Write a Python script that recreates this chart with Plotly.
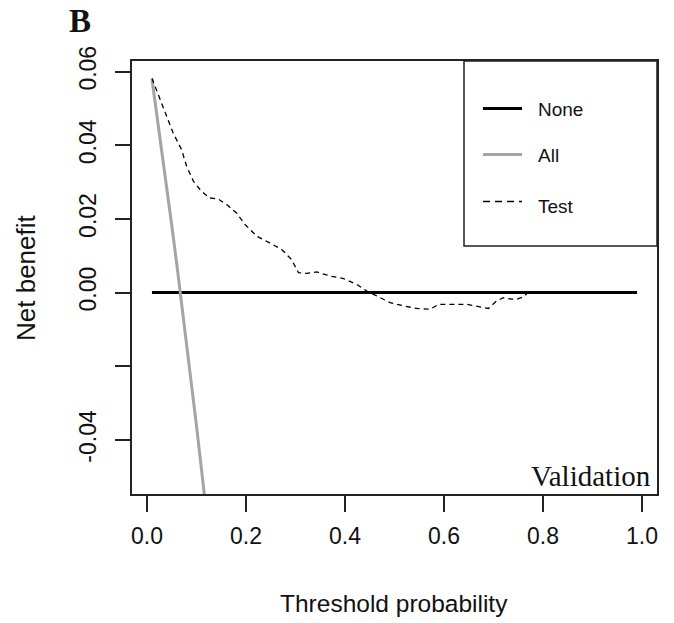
import plotly.graph_objects as go

# ---- data ----
none_x = [0.01, 0.99]
none_y = [0.0, 0.0]

all_x = [0.01, 0.02, 0.03, 0.04, 0.05, 0.06, 0.07, 0.08, 0.09, 0.10, 0.11, 0.12]
all_y = [0.0580, 0.0484, 0.0386, 0.0285, 0.0183, 0.0079, -0.0028, -0.0137,
         -0.0248, -0.0362, -0.0479, -0.0598]

test_x = [0.01, 0.033, 0.053, 0.070, 0.080, 0.094, 0.110, 0.127, 0.144, 0.161,
          0.181, 0.198, 0.222, 0.248, 0.272, 0.292, 0.306, 0.323, 0.343, 0.370,
          0.397, 0.424, 0.444, 0.464, 0.491, 0.518, 0.545, 0.572, 0.589, 0.646,
          0.669, 0.690, 0.706, 0.720, 0.737, 0.747, 0.760, 0.770]
test_y = [0.0582, 0.0505, 0.0433, 0.0388, 0.0343, 0.0302, 0.0275, 0.0257, 0.0254, 0.0239,
          0.0216, 0.0185, 0.0153, 0.0135, 0.0117, 0.0090, 0.0054, 0.0052, 0.0056, 0.0045,
          0.0038, 0.0022, 0.0004, -0.0009, -0.0027, -0.0036, -0.0043, -0.0045, -0.0032, -0.0032,
          -0.0038, -0.0043, -0.0023, -0.0014, -0.0018, -0.0018, -0.0012, 0.0]

x_ticks = [0.0, 0.2, 0.4, 0.6, 0.8, 1.0]
x_labels = ["0.0", "0.2", "0.4", "0.6", "0.8", "1.0"]
y_ticks = [-0.04, -0.02, 0.0, 0.02, 0.04, 0.06]
y_labels = ["-0.04", "", "0.00", "0.02", "0.04", "0.06"]

legend_names = ["None", "All", "Test"]
panel_label = "B"
corner_label = "Validation"
x_title = "Threshold probability"
y_title = "Net benefit"

# ---- layout geometry (reference pixels) ----
W, H = 674, 623
L, R, T, B = 132, 657, 61, 494
PW, PH = R - L, B - T


def px(x):
    return (x - L) / PW


def py(y):
    return (B - y) / PH


SANS = "Liberation Sans, Arial, sans-serif"
SERIF = "Liberation Serif, Times New Roman, serif"
GRAY = "#a4a4a4"

fig = go.Figure()
fig.add_trace(go.Scatter(x=none_x, y=none_y, mode="lines", name=legend_names[0],
                         line=dict(color="black", width=3), showlegend=False))
fig.add_trace(go.Scatter(x=all_x, y=all_y, mode="lines", name=legend_names[1],
                         line=dict(color=GRAY, width=3), showlegend=False))
fig.add_trace(go.Scatter(x=test_x, y=test_y, mode="lines", name=legend_names[2],
                         line=dict(color="black", width=1.3, dash="5px,4px"),
                         showlegend=False))

fig.update_layout(
    width=W, height=H,
    margin=dict(l=L, r=W - R, t=T, b=H - B, pad=0),
    paper_bgcolor="white", plot_bgcolor="white",
    font=dict(family=SANS, color="black"),
    xaxis=dict(range=[-0.0303, 1.0303], tickvals=x_ticks, ticktext=x_labels,
               ticks="outside", ticklen=16, tickwidth=1.5, tickcolor="#222",
               ticklabelstandoff=5,
               showline=True, mirror=True, linecolor="#222", linewidth=1.5,
               showgrid=False, zeroline=False,
               tickfont=dict(family=SANS, size=23, color="#111")),
    yaxis=dict(range=[-0.0547, 0.0629], tickvals=y_ticks, ticktext=y_labels,
               ticks="outside", ticklen=15, tickwidth=1.5, tickcolor="#222",
               tickangle=-90, ticklabelstandoff=10,
               showline=True, mirror=True, linecolor="#222", linewidth=1.5,
               showgrid=False, zeroline=False,
               tickfont=dict(family=SANS, size=23, color="#111")),
    showlegend=False,
)

# legend box
lx0, ly0, lx1, ly1 = 464, 61, 657, 246
fig.add_shape(type="rect", xref="paper", yref="paper",
              x0=px(lx0), x1=px(lx1), y0=py(ly1), y1=py(ly0),
              line=dict(color="#222", width=1.5), fillcolor="rgba(0,0,0,0)")
leg_line_y = [108.5, 154.5, 201.5]
leg_text_y = [110, 155, 206]
leg_styles = [dict(color="black", width=3), dict(color=GRAY, width=3),
              dict(color="black", width=1.3, dash="7px,5px")]
for name, ly, ty, st in zip(legend_names, leg_line_y, leg_text_y, leg_styles):
    fig.add_shape(type="line", xref="paper", yref="paper",
                  x0=px(483), x1=px(522), y0=py(ly), y1=py(ly), line=st)
    fig.add_annotation(x=px(536), y=py(ty), xref="paper", yref="paper",
                       text=name, showarrow=False, xanchor="left", yanchor="middle",
                       font=dict(family=SANS, size=19, color="#111"))

# corner label
fig.add_annotation(x=px(653), y=py(476), xref="paper", yref="paper",
                   text=corner_label, showarrow=False, xanchor="right", yanchor="middle",
                   font=dict(family=SERIF, size=29, color="#111"))
# panel label
fig.add_annotation(x=px(80), y=py(21), xref="paper", yref="paper",
                   text="<b>" + panel_label + "</b>", showarrow=False,
                   xanchor="center", yanchor="middle",
                   font=dict(family=SERIF, size=33, color="#111"))
# axis titles
fig.add_annotation(x=px(394), y=py(603), xref="paper", yref="paper",
                   text=x_title, showarrow=False, xanchor="center", yanchor="middle",
                   font=dict(family=SANS, size=24.5, color="#111"))
fig.add_annotation(x=px(26), y=py(278), xref="paper", yref="paper",
                   text=y_title, showarrow=False, xanchor="center", yanchor="middle",
                   textangle=-90, font=dict(family=SANS, size=26, color="#111"))

fig.write_html("out.html",
               config={"displayModeBar": False},
               post_script="document.body.style.margin='0';document.body.style.padding='0';")
